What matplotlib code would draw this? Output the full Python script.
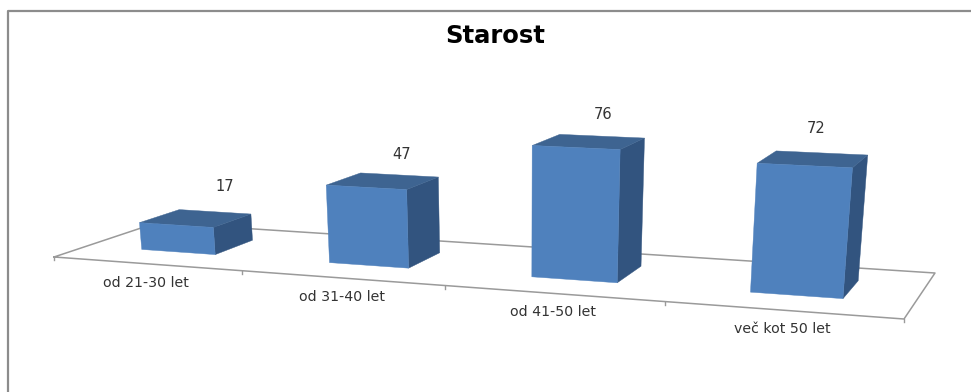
import numpy as np
import matplotlib
matplotlib.use("Agg")
import matplotlib.pyplot as plt
from matplotlib.patches import Polygon

categories = ["od 21-30 let", "od 31-40 let", "od 41-50 let", "več kot 50 let"]
values = [17, 47, 76, 72]

FRONT = "#4f81bd"
TOP = "#3e6491"
SIDE = "#32547f"
AXIS = "#9a9a9a"
TEXT = "#333333"

BAR_WIDTH = 0.4
DEPTH = (0.31, 0.71)
# small pixel offsets so the value labels sit off the back edge of each bar
LABEL_SHIFT = [(10, -1), (2, 4), (1, 2), (-5, 0)]


def floor_homography(src, dst):
    # solve the 3x3 homography that takes the unit floor onto the image plane
    rows = []
    for (x, y), (u, v) in zip(src, dst):
        rows.append([x, y, 1, 0, 0, 0, -u * x, -u * y, -u])
        rows.append([0, 0, 0, x, y, 1, -v * x, -v * y, -v])
    _, _, vt = np.linalg.svd(np.array(rows, dtype=float))
    return vt[-1].reshape(3, 3)


n = len(categories)
H = floor_homography(
    [(0, 0), (n, 0), (n, 1), (0, 1)],
    [(54, 257), (904, 319), (935, 273), (157, 222.7)],
)
H = H / H[2, 2]

# verticals converge on a point far below the chart
vanish = np.array([520.0, 4750.0, 1.0])
ref = H @ np.array([3.3, 0.31, 1.0])
lift = -1.74 * ref[2] / (vanish[1] - ref[1] / ref[2])


def project(x, y, z=0.0):
    p = H @ np.array([x, y, 1.0]) + z * lift * vanish
    return p[0] / p[2], p[1] / p[2]


fig = plt.figure(figsize=(9.71, 3.92), dpi=100)
ax = fig.add_axes([0, 0, 1, 1])
ax.set_xlim(0, 971)
ax.set_ylim(392, 0)
ax.axis("off")

# outer chart frame
ax.plot([8.3, 8.3, 971], [392, 11, 11], color="#8c8c8c", lw=1.6, solid_capstyle="butt")

# floor of the plot
corners = [project(0, 0), project(n, 0), project(n, 1), project(0, 1), project(0, 0)]
ax.plot(*zip(*corners), color=AXIS, lw=1.1, zorder=1)
for i in range(n + 1):
    u, v = project(i, 0)
    ax.plot([u, u], [v, v + 3], color=AXIS, lw=1.0, zorder=1)

y0, y1 = DEPTH
for i, value in enumerate(values):
    x0 = i + 0.5 - BAR_WIDTH / 2
    x1 = i + 0.5 + BAR_WIDTH / 2
    front = [project(x0, y0), project(x1, y0), project(x1, y0, value), project(x0, y0, value)]
    top = [project(x0, y0, value), project(x1, y0, value), project(x1, y1, value), project(x0, y1, value)]
    side = [project(x1, y0), project(x1, y1), project(x1, y1, value), project(x1, y0, value)]
    ax.add_patch(Polygon(side, closed=True, fc=SIDE, ec=SIDE, lw=0.3, zorder=2 + i))
    ax.add_patch(Polygon(top, closed=True, fc=TOP, ec=TOP, lw=0.3, zorder=2 + i))
    ax.add_patch(Polygon(front, closed=True, fc=FRONT, ec=FRONT, lw=0.3, zorder=2 + i))

    lx, ly = project(i + 0.5, y1, value)
    dx, dy = LABEL_SHIFT[i]
    ax.text(lx + dx, ly - 24 + dy, str(value), ha="center", va="center", fontsize=10.5, color=TEXT, zorder=10)

    cx, cy = project(i + 0.5, 0)
    ax.text(cx, cy + 19, categories[i], ha="center", va="center", fontsize=10.2, color=TEXT, zorder=10)

ax.text(495, 36, "Starost", ha="center", va="center", fontsize=17.5, fontweight="bold", color="black")

fig.savefig("out.png", dpi=100)
